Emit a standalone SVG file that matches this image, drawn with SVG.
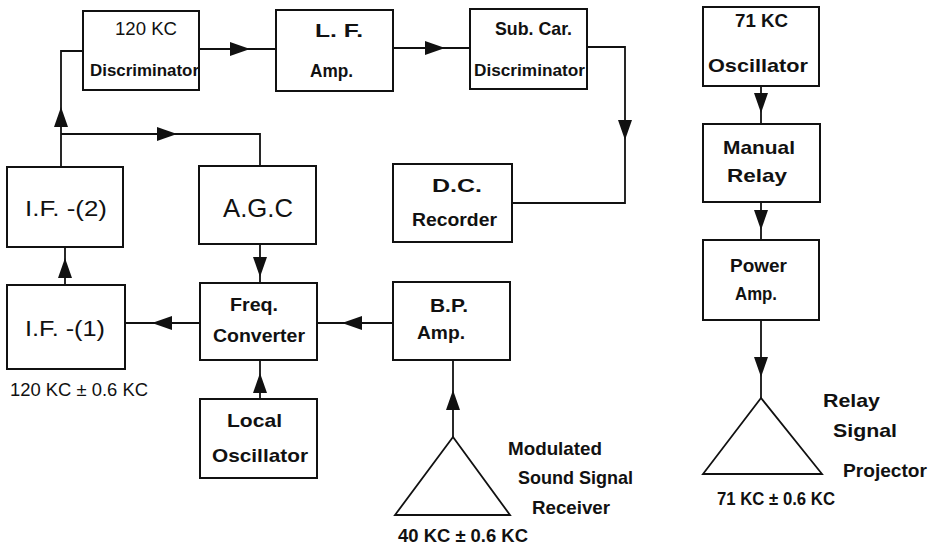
<svg xmlns="http://www.w3.org/2000/svg" width="931" height="548" viewBox="0 0 931 548">
<style>
.box{fill:#fff;stroke:#111;stroke-width:2}
.ln{fill:none;stroke:#111;stroke-width:1.8}
text{font-family:"Liberation Sans","DejaVu Sans",sans-serif;font-weight:bold;font-size:19px;fill:#111}
.n{font-weight:normal}
.big{font-size:26px;font-weight:normal}
.mid{font-size:22px;font-weight:normal}
.sm{font-size:17px}
</style>
<defs>
<path id="ah" d="M0,0 L-20,-7 L-20,7 Z" fill="#111"/>
</defs>
<rect width="931" height="548" fill="#fff"/>
<g id="connectors">
<path class="ln" d="M199,49 H276"/>
<use href="#ah" transform="translate(250,49)"/>
<path class="ln" d="M393,48 H470"/>
<use href="#ah" transform="translate(445,48)"/>
<path class="ln" d="M587,47 H625 V203 H512"/>
<use href="#ah" transform="translate(625,140) rotate(90)"/>
<path class="ln" d="M61,167 V51 H83"/>
<use href="#ah" transform="translate(61,107) rotate(-90)"/>
<path class="ln" d="M61,134 H260 V166"/>
<use href="#ah" transform="translate(177,134)"/>
<path class="ln" d="M260,244 V283"/>
<use href="#ah" transform="translate(260,277) rotate(90)"/>
<path class="ln" d="M65,285 V247"/>
<use href="#ah" transform="translate(65,258) rotate(-90)"/>
<path class="ln" d="M200,323 H125"/>
<use href="#ah" transform="translate(152,323) rotate(180)"/>
<path class="ln" d="M393,323 H317"/>
<use href="#ah" transform="translate(342,323) rotate(180)"/>
<path class="ln" d="M260,399 V360"/>
<use href="#ah" transform="translate(260,373) rotate(-90)"/>
<path class="ln" d="M453,437 V360"/>
<use href="#ah" transform="translate(453,390) rotate(-90)"/>
<path class="ln" d="M761,86 V124"/>
<use href="#ah" transform="translate(761,113) rotate(90)"/>
<path class="ln" d="M761,202 V240"/>
<use href="#ah" transform="translate(761,230) rotate(90)"/>
<path class="ln" d="M761,320 V398"/>
<use href="#ah" transform="translate(761,377) rotate(90)"/>
</g>
<g id="disc120">
<rect class="box" x="83" y="11" width="116" height="79"/>
<text class="n" x="115" y="35" font-size="16" textLength="62" lengthAdjust="spacingAndGlyphs">120 KC</text>
<text class="sm" x="90" y="76" textLength="109" lengthAdjust="spacingAndGlyphs">Discriminator</text>
</g>
<g id="lfamp">
<rect class="box" x="276" y="10" width="117" height="81"/>
<text x="315" y="37" textLength="48" lengthAdjust="spacingAndGlyphs">L. F.</text>
<text x="310" y="77" font-size="20" textLength="43" lengthAdjust="spacingAndGlyphs">Amp.</text>
</g>
<g id="subcar">
<rect class="box" x="470" y="9" width="117" height="80"/>
<text x="495" y="35" textLength="77" lengthAdjust="spacingAndGlyphs">Sub. Car.</text>
<text class="sm" x="474" y="76" textLength="111" lengthAdjust="spacingAndGlyphs">Discriminator</text>
</g>
<g id="dcrec">
<rect class="box" x="393" y="164" width="119" height="78"/>
<text x="432" y="192" font-size="20" textLength="50" lengthAdjust="spacingAndGlyphs">D.C.</text>
<text x="412" y="226" font-size="20" textLength="85" lengthAdjust="spacingAndGlyphs">Recorder</text>
</g>
<g id="agc">
<rect class="box" x="199" y="166" width="117" height="78"/>
<text class="big" x="223" y="217" textLength="70" lengthAdjust="spacingAndGlyphs">A.G.C</text>
</g>
<g id="if2">
<rect class="box" x="7" y="167" width="116" height="80"/>
<text class="mid" x="25" y="216" textLength="82" lengthAdjust="spacingAndGlyphs">I.F. -(2)</text>
</g>
<g id="if1">
<rect class="box" x="7" y="285" width="118" height="84"/>
<text class="mid" x="25" y="336" textLength="80" lengthAdjust="spacingAndGlyphs">I.F. -(1)</text>
</g>
<g id="freqconv">
<rect class="box" x="200" y="283" width="117" height="77"/>
<text x="230" y="311" textLength="48" lengthAdjust="spacingAndGlyphs">Freq.</text>
<text x="213" y="342" textLength="92" lengthAdjust="spacingAndGlyphs">Converter</text>
</g>
<g id="bpamp">
<rect class="box" x="393" y="282" width="117" height="78"/>
<text x="430" y="312" textLength="38" lengthAdjust="spacingAndGlyphs">B.P.</text>
<text x="417" y="339" textLength="48" lengthAdjust="spacingAndGlyphs">Amp.</text>
</g>
<g id="localosc">
<rect class="box" x="200" y="399" width="117" height="79"/>
<text x="227" y="427" textLength="55" lengthAdjust="spacingAndGlyphs">Local</text>
<text x="212" y="462" textLength="96" lengthAdjust="spacingAndGlyphs">Oscillator</text>
</g>
<g id="receiver">
<path class="ln" d="M453,437 L395,515 H510 Z"/>
<text x="508" y="455" textLength="94" lengthAdjust="spacingAndGlyphs">Modulated</text>
<text x="518" y="484" textLength="115" lengthAdjust="spacingAndGlyphs">Sound Signal</text>
<text x="532" y="514" textLength="78" lengthAdjust="spacingAndGlyphs">Receiver</text>
<text x="398" y="542" font-size="18" textLength="130" lengthAdjust="spacingAndGlyphs">40 KC ± 0.6 KC</text>
</g>
<g id="osc71">
<rect class="box" x="703" y="7" width="116" height="79"/>
<text x="735" y="27" font-size="17" textLength="53" lengthAdjust="spacingAndGlyphs">71 KC</text>
<text x="708" y="72" textLength="100" lengthAdjust="spacingAndGlyphs">Oscillator</text>
</g>
<g id="manrelay">
<rect class="box" x="703" y="124" width="117" height="78"/>
<text x="723" y="154" textLength="72" lengthAdjust="spacingAndGlyphs">Manual</text>
<text x="727" y="182" textLength="60" lengthAdjust="spacingAndGlyphs">Relay</text>
</g>
<g id="poweramp">
<rect class="box" x="703" y="240" width="116" height="80"/>
<text x="730" y="272" textLength="57" lengthAdjust="spacingAndGlyphs">Power</text>
<text x="735" y="300" textLength="42" lengthAdjust="spacingAndGlyphs">Amp.</text>
</g>
<g id="projector">
<path class="ln" d="M761,398 L703,474 H822 Z"/>
<text x="823" y="407" textLength="57" lengthAdjust="spacingAndGlyphs">Relay</text>
<text x="833" y="437" textLength="64" lengthAdjust="spacingAndGlyphs">Signal</text>
<text x="843" y="477" textLength="84" lengthAdjust="spacingAndGlyphs">Projector</text>
<text x="717" y="505" font-size="18" textLength="118" lengthAdjust="spacingAndGlyphs">71 KC ± 0.6 KC</text>
</g>
<g id="iflabel">
<text class="n" x="10" y="396" font-size="18" textLength="138" lengthAdjust="spacingAndGlyphs">120 KC ± 0.6 KC</text>
</g>
</svg>
